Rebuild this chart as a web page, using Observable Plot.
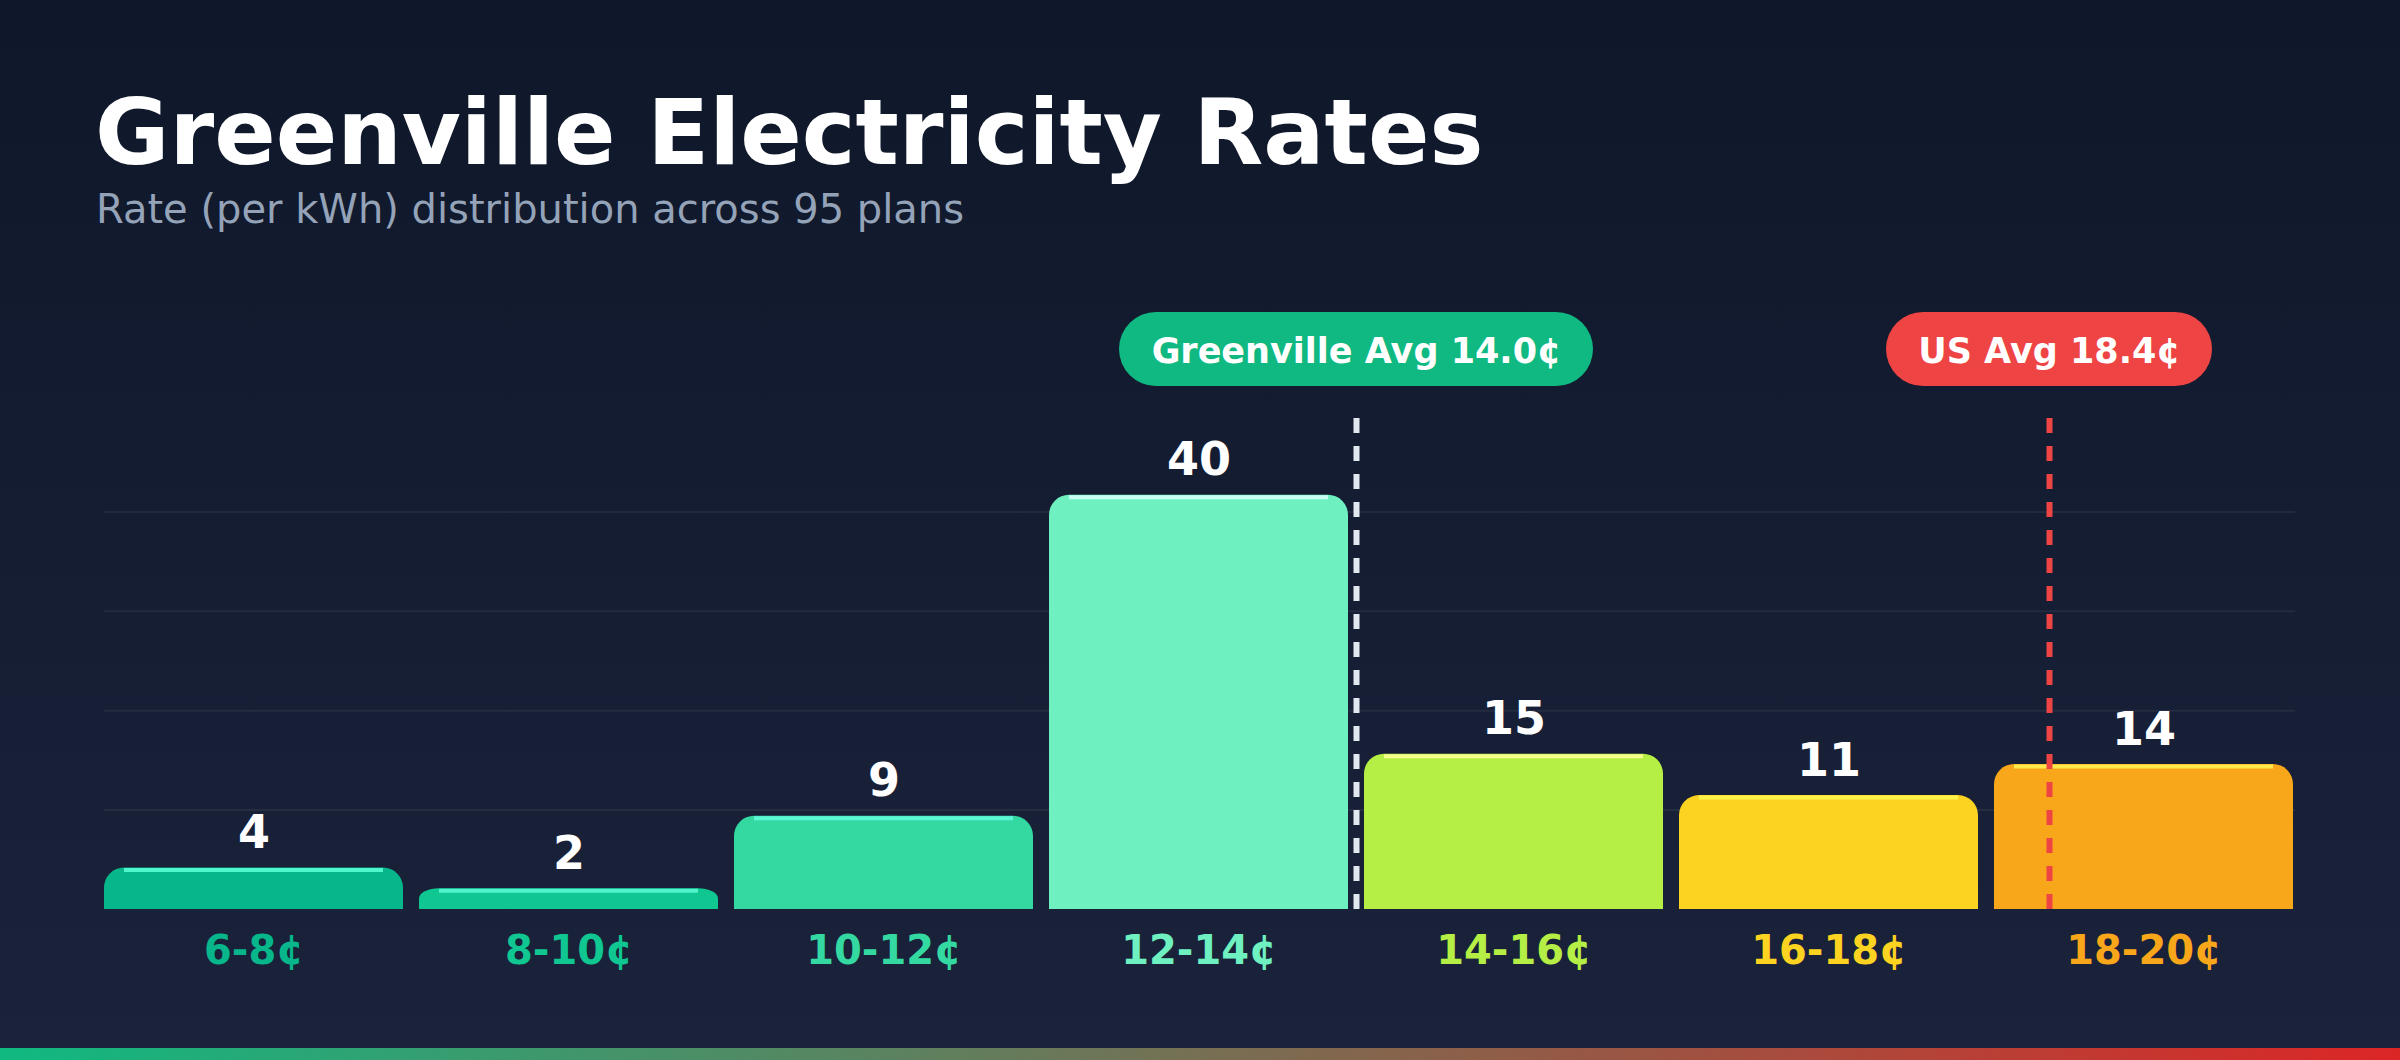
<!DOCTYPE html>
<html>
<head>
<meta charset="utf-8">
<script src="https://cdn.jsdelivr.net/npm/d3@7"></script>
<script src="https://cdn.jsdelivr.net/npm/@observablehq/plot@0.6"></script>
<style>
  html, body { margin: 0; padding: 0; overflow: hidden; background: #0f172a; }
  #wrap {
    position: relative; width: 2400px; height: 1060px;
    background: linear-gradient(180deg, #0f172a 0%, #1a233b 100%);
    font-family: "DejaVu Sans", sans-serif;
  }
  #title {
    position: absolute; left: 95px; top: 88px; margin: 0;
    font-size: 90.7px; line-height: 1; font-weight: bold; color: #ffffff; white-space: nowrap;
  }
  #subtitle {
    position: absolute; left: 96px; top: 189px; margin: 0;
    font-size: 40px; line-height: 1; color: #94a3b8; white-space: nowrap;
  }
  #chart { position: absolute; left: 0; top: 250px; }
  #strip {
    position: absolute; left: 0; bottom: 0; width: 2400px; height: 12px;
    background: linear-gradient(90deg, #10b981 0%, #dc2626 100%);
  }
</style>
</head>
<body>
<div id="wrap">
  <div id="title">Greenville Electricity Rates</div>
  <div id="subtitle">Rate (per kWh) distribution across 95 plans</div>
  <div id="chart"></div>
  <div id="strip"></div>
</div>
<script>
// ---- data ----
const binLabels = ["6-8¢", "8-10¢", "10-12¢", "12-14¢", "14-16¢", "16-18¢", "18-20¢"];
const binStart = [6, 8, 10, 12, 14, 16, 18];
const binEnd = [8, 10, 12, 14, 16, 18, 20];
const counts = [4, 2, 9, 40, 15, 11, 14];
const barColors = ["#07b68a", "#10c691", "#34d9a2", "#6ef0c0", "#b5ee44", "#fdd321", "#f9a71a"];
const highlightColors = ["#4ff5cc", "#4ff5cc", "#5cf7d5", "#c9fff3", "#f6ff8a", "#fff24a", "#fde94a"];

const avgLabels = ["Greenville Avg 14.0¢", "US Avg 18.4¢"];
const avgValues = [14.0, 18.4];
const avgLineColors = ["#e2e8f0", "#ef4444"];
const avgPillColors = ["#10b981", "#ef4444"];

// ---- tables built from arrays ----
const bins = binLabels.map((label, i) => ({
  label, lo: binStart[i], hi: binEnd[i], mid: (binStart[i] + binEnd[i]) / 2,
  count: counts[i], half: counts[i] / 2, color: barColors[i], hl: highlightColors[i]
}));
const yMax = d3.max(counts) * 1.2;
const gridTicks = d3.range(1, 5).map(i => yMax * i / 5);

const pillFont = "bold 35px 'DejaVu Sans'";
const ctx = document.createElement("canvas").getContext("2d");
ctx.font = pillFont;
const avgs = avgLabels.map((label, i) => ({
  label, value: avgValues[i], line: avgLineColors[i], pill: avgPillColors[i],
  half: Math.round(ctx.measureText(label).width / 2 + 32)
}));

const pillMarks = avgs.map(a =>
  Plot.rect([a], {x1: "value", x2: "value", y1: yMax, y2: yMax, fill: "pill", rx: 37,
    insetLeft: -a.half, insetRight: -a.half, insetTop: -100, insetBottom: 26})
);

const chart = Plot.plot({
  width: 2400,
  height: 798,
  marginLeft: 96,
  marginRight: 99,
  marginTop: 162,
  marginBottom: 139,
  x: {domain: [6, 20], axis: null},
  y: {domain: [0, yMax], axis: null},
  style: {background: "transparent", fontFamily: "'DejaVu Sans', sans-serif", overflow: "visible"},
  marks: [
    Plot.ruleY(gridTicks, {y: d => d, stroke: "#ffffff", strokeOpacity: 0.06, strokeWidth: 2, insetLeft: 8, insetRight: 6}),
    // rounded bars
    Plot.rect(bins, {x1: "lo", x2: "hi", y1: 0, y2: "count", fill: "color", insetLeft: 8, insetRight: 8, rx: 20}),
    // square off the bottom corners (lower half of each bar)
    Plot.rect(bins, {x1: "lo", x2: "hi", y1: 0, y2: "half", fill: "color", insetLeft: 8, insetRight: 8}),
    // top highlight
    Plot.ruleY(bins, {y: "count", x1: "lo", x2: "hi", stroke: "hl", strokeWidth: 4, dy: 2, insetLeft: 28, insetRight: 28}),
    // value labels
    Plot.text(bins, {x: "mid", y: "count", text: d => String(d.count), dy: -20, lineAnchor: "bottom",
      fill: "#ffffff", fontSize: 46, fontWeight: "bold"}),
    // category labels
    Plot.text(bins, {x: "mid", y: 0, text: "label", dy: 54, lineAnchor: "bottom",
      fill: "color", fontSize: 40, fontWeight: "bold"}),
    // average lines
    Plot.ruleX(avgs, {x: "value", y1: 0, y2: yMax, stroke: "line", strokeWidth: 6, strokeDasharray: "15,13"}),
    // pills
    ...pillMarks,
    Plot.text(avgs, {x: "value", y: yMax, text: "label", dy: -61, lineAnchor: "middle",
      fill: "#ffffff", fontSize: 35, fontWeight: "bold"})
  ]
});
document.getElementById("chart").appendChild(chart);
</script>
</body>
</html>
